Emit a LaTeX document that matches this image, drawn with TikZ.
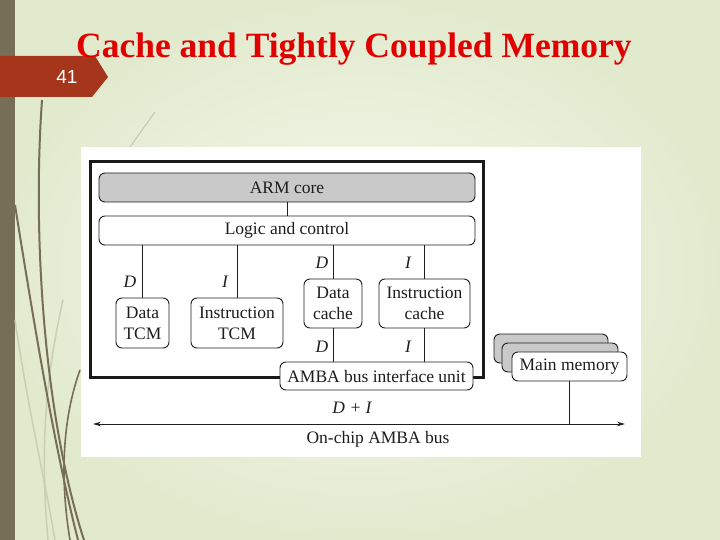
\documentclass[tikz,border=0pt]{standalone}
\usepackage{fontspec}
\setmainfont{Liberation Serif}
\newfontfamily\sansf{Liberation Sans}
\usetikzlibrary{arrows.meta}
\definecolor{bgedge}{HTML}{E2EACE}
\definecolor{bgmid}{HTML}{F6F9EE}
\definecolor{stripe}{HTML}{766E56}
\definecolor{tabred}{HTML}{A5351B}
\definecolor{titlered}{HTML}{E00000}
\definecolor{boxgrey}{HTML}{C9C9C9}
\definecolor{ink}{HTML}{1E1E1E}
\definecolor{vine}{HTML}{786E55}
\definecolor{vinelight}{HTML}{C8CFB3}
\begin{document}
\begin{tikzpicture}[x=1pt,y=-1pt,
  box/.style={draw=ink, line width=0.9pt, rounded corners=6pt, fill=white, text=ink,
    font=\fontsize{17.5}{21}\selectfont, align=center, inner sep=0pt},
  lbl/.style={text=ink, font=\fontsize{17.5}{21}\selectfont\itshape, inner sep=0pt},
  wire/.style={draw=ink, line width=0.8pt}]
\useasboundingbox (0,0) rectangle (720,540);
% background
\shade[inner color=bgmid, outer color=bgedge] (0,0) rectangle (720,540);
\fill[stripe] (0,0) rectangle (15,540);
% decorative vines
\draw[vinelight, line width=1.5pt] (15,320) .. controls (30,420) and (45,480) .. (55,540);
\draw[vinelight, line width=1.5pt] (63,300) .. controls (45,380) and (40,450) .. (48,540);
\draw[vinelight!80!gray, line width=0.8pt] (155,112) -- (130,147);
\draw[vine, line width=2pt] (42,100) .. controls (32,240) and (45,420) .. (84,540);
\draw[vine, line width=2pt] (15,205) .. controls (35,330) and (55,450) .. (78,540);
\draw[vine, line width=1.6pt] (80,370) .. controls (62,420) and (60,480) .. (70,540);
% slide tab and title
\fill[tabred] (0,56) -- (95,56) -- (108,77) -- (92,97) -- (0,97) -- cycle;
\node[text=white, font=\sansf\fontsize{19}{19}\selectfont, inner sep=0pt] (num) at (67,77) {41};
\node[anchor=base west, text=titlered, font=\fontsize{35.5}{36}\selectfont\bfseries, inner sep=0pt] (title) at (76,58) {Cache and Tightly Coupled Memory};
% image panel
\fill[white] (81,147) rectangle (641,457);
\draw[line width=3pt, black!90] (90,162) rectangle (483,377);
% boxes
\node[box, fill=boxgrey, minimum width=376pt, minimum height=29pt] (arm) at (287,187.5) {ARM core};
\node[box, minimum width=376pt, minimum height=29pt] (logic) at (287,230.5) {Logic and control};
\node[box, minimum width=53pt, minimum height=50pt] (dtcm) at (142.5,323) {Data\\TCM};
\node[box, minimum width=92pt, minimum height=50pt] (itcm) at (237,323) {Instruction\\TCM};
\node[box, minimum width=58pt, minimum height=49pt] (dcache) at (333,303.5) {Data\\cache};
\node[box, minimum width=91pt, minimum height=49pt] (icache) at (424.5,303.5) {Instruction\\cache};
\node[box, minimum width=193pt, minimum height=28pt] (amba) at (376.5,376) {AMBA bus interface unit};
\node[box, fill=boxgrey, minimum width=114pt, minimum height=29pt] (mm1) at (551,348.5) {};
\node[box, fill=boxgrey, minimum width=116pt, minimum height=29pt] (mm2) at (560,357.5) {};
\node[box, minimum width=115pt, minimum height=29pt] (mm3) at (569.5,366.5) {Main memory};
% connectors
\draw[wire] (arm.south) -- (logic.north);
\draw[wire] (dtcm.north) -- (dtcm.north |- logic.south);
\draw[wire] (itcm.north) -- (itcm.north |- logic.south);
\draw[wire] (dcache.north) -- (dcache.north |- logic.south);
\draw[wire] (icache.north) -- (icache.north |- logic.south);
\draw[wire] (dcache.south) -- (dcache.south |- amba.north);
\draw[wire] (icache.south) -- (icache.south |- amba.north);
\coordinate (busL) at (93,424);
\coordinate (busR) at (625,424);
\draw[wire, {Stealth[length=8pt,width=4.5pt]}-{Stealth[length=8pt,width=4.5pt]}] (busL) -- (busR);
\draw[wire] (mm3.south) -- (mm3.south |- busL);
% labels
\node[lbl] (l1) at (130,282) {D};
\node[lbl] (l2) at (225,282) {I};
\node[lbl] (l3) at (322,263) {D};
\node[lbl] (l4) at (408,263) {I};
\node[lbl] (l5) at (322,347) {D};
\node[lbl] (l6) at (408,347) {I};
\node[lbl] (l7) at (352,408) {D + I};
\node[text=ink, font=\fontsize{17.5}{21}\selectfont, inner sep=0pt] (busname) at (378,439) {On-chip AMBA bus};
\end{tikzpicture}
\end{document}
